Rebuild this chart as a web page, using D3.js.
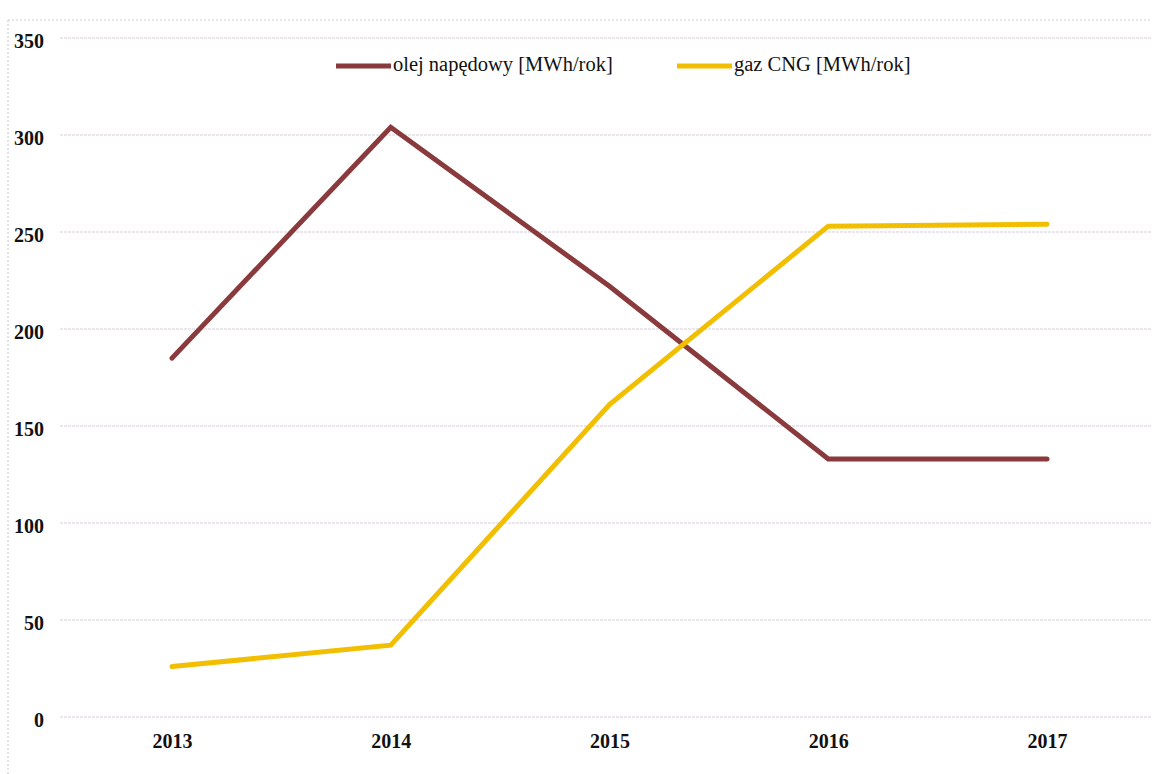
<!DOCTYPE html>
<html><head><meta charset="utf-8">
<script src="https://cdn.jsdelivr.net/npm/d3@7"></script>
<style>body{margin:0;background:#fff}svg{display:block}</style>
</head><body>
<svg id="c" width="1152" height="774"></svg>
<script>
const years = ["2013","2014","2015","2016","2017"];
const olej = [185, 304, 222, 133, 133];
const gaz = [26, 37, 161, 253, 254];
const yTicks = [0,50,100,150,200,250,300,350];
const seriesNames = ["olej napędowy [MWh/rok]", "gaz CNG [MWh/rok]"];
const seriesColors = ["#8a3a3c", "#f2bf00"];

const svg = d3.select("#c");
const x = d3.scalePoint().domain(years).range([172, 1047]);
const y = d3.scaleLinear().domain([0,350]).range([717, 38]);

// frame (dotted, scanned page look)
svg.append("line").attr("x1",8).attr("x2",1152).attr("y1",20).attr("y2",20)
  .attr("stroke","#cfcfcf").attr("stroke-dasharray","2,2");
svg.append("line").attr("x1",8).attr("x2",8).attr("y1",20).attr("y2",774)
  .attr("stroke","#c4c4d0").attr("stroke-dasharray","2,2");

// gridlines
svg.append("g").selectAll("line").data(yTicks).join("line")
  .attr("x1",60).attr("x2",1152)
  .attr("y1",d=>y(d)).attr("y2",d=>y(d))
  .attr("stroke","#d8cbdd").attr("stroke-width",1.2).attr("stroke-dasharray","3,1");

// y axis labels
const yAxis = d3.axisLeft(y).tickValues(yTicks).tickSize(0).tickPadding(0);
const gy = svg.append("g").attr("transform","translate(44,3)").call(yAxis);
gy.select(".domain").remove();
gy.selectAll("text").attr("font-family","Liberation Serif").attr("font-weight","bold")
  .attr("font-size",20).attr("fill","#111");

// x axis labels
const xAxis = d3.axisBottom(x).tickSize(0).tickPadding(0);
const gx = svg.append("g").attr("transform","translate(0,734)").call(xAxis);
gx.select(".domain").remove();
gx.selectAll("text").attr("font-family","Liberation Serif").attr("font-weight","bold")
  .attr("font-size",20).attr("fill","#111");

// lines
const line = d3.line().x((d,i)=>x(years[i])).y(d=>y(d));
[olej, gaz].forEach((s,k)=>{
  svg.append("path").datum(s).attr("d",line).attr("fill","none")
    .attr("stroke",seriesColors[k]).attr("stroke-width",5)
    .attr("stroke-linejoin","miter").attr("stroke-linecap","round");
});

// legend
const legX = [336, 677];
seriesNames.forEach((n,k)=>{
  svg.append("line").attr("x1",legX[k]).attr("x2",legX[k]+55).attr("y1",66).attr("y2",66)
    .attr("stroke",seriesColors[k]).attr("stroke-width",5);
  svg.append("text").attr("x",legX[k]+57).attr("y",66).attr("dominant-baseline","middle")
    .attr("font-family","Liberation Serif").attr("font-size",20.5).attr("fill","#111").text(n);
});
</script>
</body></html>
